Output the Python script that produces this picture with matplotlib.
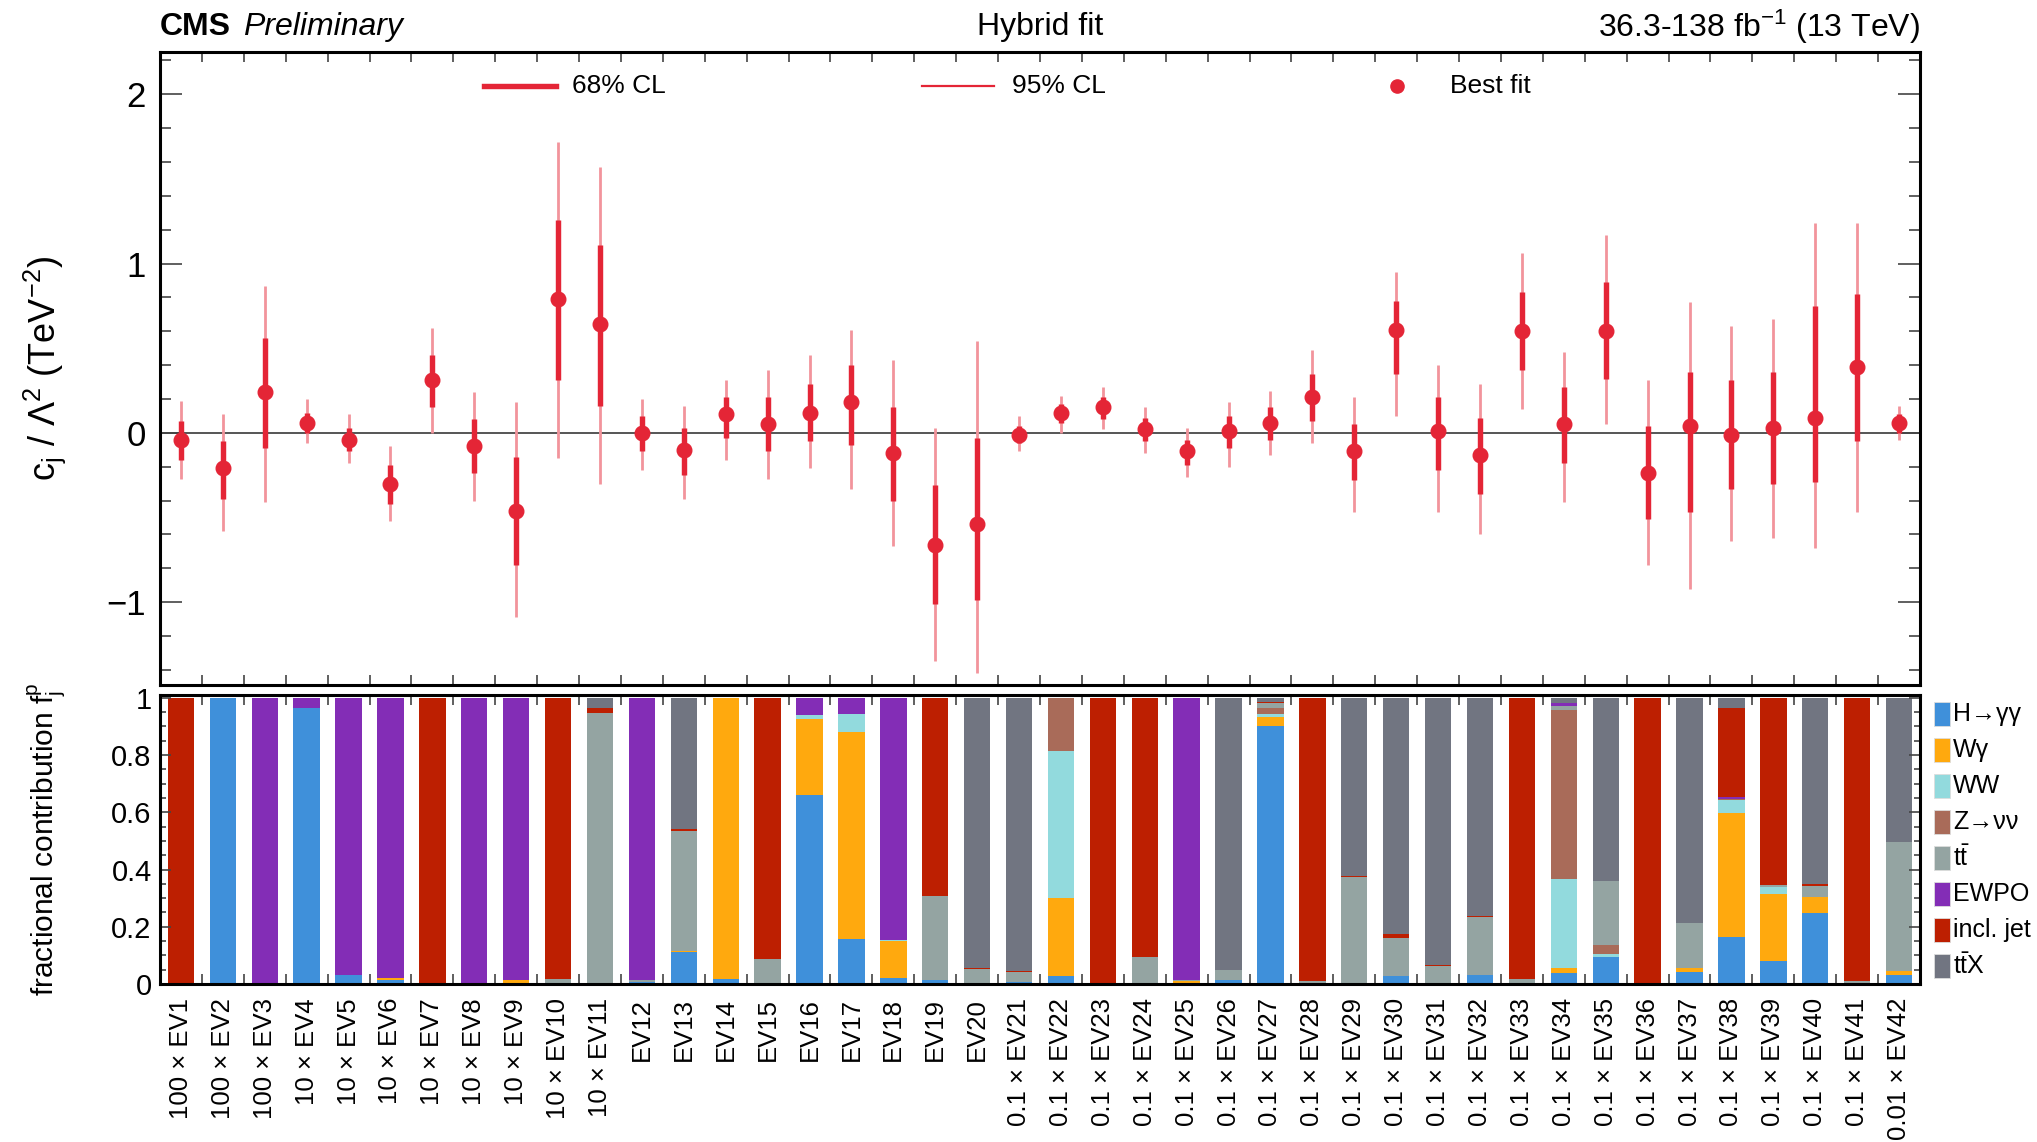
"""Hybrid fit: EV coefficients with fractional contributions per channel."""
import matplotlib
matplotlib.use("Agg")
import matplotlib.pyplot as plt
from matplotlib.ticker import MultipleLocator, FixedLocator
from matplotlib.patches import Rectangle

plt.rcParams["font.family"] = ["Liberation Sans", "DejaVu Sans"]
plt.rcParams["mathtext.fontset"] = "custom"
plt.rcParams["mathtext.rm"] = "Liberation Sans"
plt.rcParams["mathtext.it"] = "Liberation Sans:italic"
plt.rcParams["mathtext.bf"] = "Liberation Sans:bold"
plt.rcParams["mathtext.default"] = "regular"

# ---- data ----
ev_names = ["EV1", "EV2", "EV3", "EV4", "EV5", "EV6", "EV7", "EV8", "EV9", "EV10",
            "EV11", "EV12", "EV13", "EV14", "EV15", "EV16", "EV17", "EV18", "EV19", "EV20",
            "EV21", "EV22", "EV23", "EV24", "EV25", "EV26", "EV27", "EV28", "EV29", "EV30",
            "EV31", "EV32", "EV33", "EV34", "EV35", "EV36", "EV37", "EV38", "EV39", "EV40",
            "EV41", "EV42"]
ev_scale = ["100", "100", "100", "10", "10", "10", "10", "10", "10", "10",
            "10", "", "", "", "", "", "", "", "", "",
            "0.1", "0.1", "0.1", "0.1", "0.1", "0.1", "0.1", "0.1", "0.1", "0.1",
            "0.1", "0.1", "0.1", "0.1", "0.1", "0.1", "0.1", "0.1", "0.1", "0.1",
            "0.1", "0.01"]

best = [-0.04, -0.21, 0.24, 0.06, -0.04, -0.30, 0.31, -0.08, -0.46, 0.79,
        0.64, 0.00, -0.10, 0.11, 0.05, 0.12, 0.18, -0.12, -0.66, -0.54,
        -0.01, 0.12, 0.15, 0.02, -0.11, 0.01, 0.06, 0.21, -0.11, 0.61,
        0.01, -0.13, 0.60, 0.05, 0.60, -0.24, 0.04, -0.01, 0.03, 0.09,
        0.39, 0.06]
lo68 = [-0.16, -0.39, -0.09, 0.00, -0.11, -0.42, 0.15, -0.24, -0.78, 0.31,
        0.16, -0.11, -0.25, -0.03, -0.11, -0.05, -0.07, -0.40, -1.01, -0.99,
        -0.06, 0.06, 0.08, -0.05, -0.19, -0.09, -0.04, 0.07, -0.28, 0.35,
        -0.22, -0.36, 0.37, -0.18, 0.32, -0.51, -0.47, -0.33, -0.30, -0.29,
        -0.05, 0.00]
hi68 = [0.07, -0.05, 0.56, 0.12, 0.03, -0.19, 0.46, 0.08, -0.14, 1.26,
        1.11, 0.10, 0.03, 0.21, 0.21, 0.29, 0.40, 0.15, -0.31, -0.03,
        0.04, 0.17, 0.21, 0.09, -0.04, 0.10, 0.15, 0.35, 0.05, 0.78,
        0.21, 0.09, 0.83, 0.27, 0.89, 0.04, 0.36, 0.31, 0.36, 0.75,
        0.82, 0.11]
lo95 = [-0.27, -0.58, -0.41, -0.06, -0.18, -0.52, 0.00, -0.40, -1.09, -0.15,
        -0.30, -0.22, -0.39, -0.16, -0.27, -0.21, -0.33, -0.67, -1.35, -1.42,
        -0.11, 0.00, 0.02, -0.12, -0.26, -0.20, -0.13, -0.06, -0.47, 0.10,
        -0.47, -0.60, 0.14, -0.41, 0.05, -0.78, -0.92, -0.64, -0.62, -0.68,
        -0.47, -0.04]
hi95 = [0.19, 0.11, 0.87, 0.20, 0.11, -0.08, 0.62, 0.24, 0.18, 1.72,
        1.57, 0.20, 0.16, 0.31, 0.37, 0.46, 0.61, 0.43, 0.03, 0.54,
        0.10, 0.22, 0.27, 0.15, 0.03, 0.18, 0.25, 0.49, 0.21, 0.95,
        0.40, 0.29, 1.06, 0.48, 1.17, 0.31, 0.77, 0.63, 0.67, 1.24,
        1.24, 0.16]

# fractional contributions, stacked bottom -> top
f_hgg = [0, 1, 0, .965, .03, .014, 0, .003, 0, 0,
         0, .008, .112, .016, .003, .662, .156, .021, .013, .005,
         .008, .028, 0, .003, .003, .013, .901, 0, .002, .027,
         0, .031, 0, .038, .093, 0, .043, .166, .079, .247,
         0, .031]
f_wg = [0, 0, 0, 0, 0, .007, 0, 0, .015, 0,
        0, 0, .005, .984, 0, .265, .724, .128, 0, 0,
        0, .273, 0, 0, .008, 0, .033, 0, 0, 0,
        0, 0, 0, .018, 0, 0, .014, .433, .236, .058,
        0, .016]
f_ww = [0, 0, 0, 0, 0, 0, 0, 0, 0, 0,
        0, 0, 0, 0, 0, .014, .062, .006, 0, 0,
        0, .513, 0, 0, 0, 0, .010, 0, 0, 0,
        0, 0, 0, .311, .013, 0, 0, .044, .023, 0,
        0, 0]
f_zvv = [0, 0, 0, 0, 0, 0, 0, 0, 0, 0,
         0, 0, 0, 0, 0, 0, 0, 0, 0, 0,
         0, .186, 0, 0, 0, 0, .021, 0, 0, 0,
         0, 0, 0, .591, .032, 0, 0, .005, 0, 0,
         0, 0]
f_tt = [0, 0, 0, 0, 0, 0, 0, 0, 0, .016,
        .946, .006, .417, 0, .084, 0, 0, 0, .294, .049,
        .035, 0, 0, .093, .002, .036, .016, .012, .371, .134,
        .064, .202, .016, .015, .223, 0, .155, 0, .008, .039,
        .009, .448]
f_ewpo = [0, 0, 1, .035, .97, .979, 0, .997, .985, 0,
          0, .986, 0, 0, 0, .059, .058, .845, 0, 0,
          0, 0, 0, 0, .987, 0, 0, 0, 0, 0,
          0, 0, 0, .008, 0, 0, 0, .005, 0, 0,
          0, 0]
f_jet = [1, 0, 0, 0, 0, 0, 1, 0, 0, .984,
         .018, 0, .006, 0, .913, 0, 0, 0, .693, .002,
         .004, 0, 1, .904, 0, 0, .005, .988, .006, .014,
         .002, .005, .984, 0, 0, 1, 0, .312, .654, .006,
         .991, 0]
f_ttx = [0, 0, 0, 0, 0, 0, 0, 0, 0, 0,
         .036, 0, .460, 0, 0, 0, 0, 0, 0, .944,
         .953, 0, 0, 0, 0, .951, .014, 0, .621, .825,
         .934, .762, 0, .019, .639, 0, .788, .035, 0, .650,
         0, .505]

channels = ["H\u2192\u03b3\u03b3", "W\u03b3", "WW", "Z\u2192\u03bd\u03bd",
            r"$t\bar{t}$", "EWPO", "incl. jet", r"$t\bar{t}X$"]
fractions = [f_hgg, f_wg, f_ww, f_zvv, f_tt, f_ewpo, f_jet, f_ttx]
colors = ["#3f90da", "#ffa90e", "#92dadd", "#a96b59",
          "#94a4a2", "#832db6", "#bd1f01", "#717581"]

RED = "#e42536"
PINK = "#f2949c"

labels = [f"{s} \u00d7 {n}" if s else n for s, n in zip(ev_scale, ev_names)]
x = list(range(len(ev_names)))

# ---- figure ----
W, H = 2037, 1142
fig = plt.figure(figsize=(W / 100, H / 100), dpi=100)
L, R = 160, 1920
ax = fig.add_axes([L / W, 1 - 685 / H, (R - L) / W, (685 - 52) / H])
axb = fig.add_axes([L / W, 1 - 984 / H, (R - L) / W, (984 - 695) / H])

# top panel
ax.axhline(0, color="#555555", lw=1.4, zorder=1)
ax.vlines(x, lo95, hi95, color=PINK, lw=2.0, zorder=2)
ax.vlines(x, lo68, hi68, color=RED, lw=3.9, zorder=3)
ax.plot(x, best, "o", color=RED, ms=10.5, zorder=4)
ax.set_xlim(-0.5, len(x) - 0.5)
ax.set_ylim(-1.49, 2.25)
ax.yaxis.set_major_locator(FixedLocator([-1, 0, 1, 2]))
ax.yaxis.set_minor_locator(MultipleLocator(0.2))
ax.xaxis.set_major_locator(FixedLocator([]))
ax.xaxis.set_minor_locator(FixedLocator([i + 0.5 for i in x[:-1]]))
ax.tick_params(axis="y", which="major", direction="in", length=16, width=1.2,
               left=True, right=True, labelsize=25, pad=10, color="#444444")
ax.tick_params(axis="y", which="minor", direction="in", length=8, width=1.2,
               left=True, right=True, color="#444444")
ax.tick_params(axis="x", which="minor", direction="in", length=7, width=1.2,
               top=True, bottom=True, color="#444444")
ax.tick_params(axis="x", labelbottom=False)
ax.set_ylabel(r"c$_{j}$ / $\Lambda^{2}$ (TeV$^{-2}$)", fontsize=26)
ax.yaxis.set_label_coords(-0.052, 0.5)

# legend of top panel
ly = 0.946
ax.plot([0.184, 0.225], [ly, ly], color=RED, lw=3.9, transform=ax.transAxes, clip_on=False)
ax.text(0.234, ly, "68% CL", fontsize=19, va="center", transform=ax.transAxes)
ax.plot([0.433, 0.474], [ly, ly], color=RED, lw=1.6, transform=ax.transAxes, clip_on=False)
ax.text(0.484, ly, "95% CL", fontsize=19, va="center", transform=ax.transAxes)
ax.plot([0.703], [ly], "o", color=RED, ms=9.5, transform=ax.transAxes, clip_on=False)
ax.text(0.733, ly, "Best fit", fontsize=19, va="center", transform=ax.transAxes)

# bottom panel: stacked fractions
bottom = [0.0] * len(x)
for frac, col in zip(fractions, colors):
    axb.bar(x, frac, bottom=bottom, width=0.63, color=col, linewidth=0)
    bottom = [b + f for b, f in zip(bottom, frac)]
axb.set_xlim(-0.5, len(x) - 0.5)
axb.set_ylim(0, 1.01)
axb.yaxis.set_major_locator(FixedLocator([0, 0.2, 0.4, 0.6, 0.8, 1.0]))
axb.yaxis.set_minor_locator(MultipleLocator(0.05))
axb.set_yticklabels(["0", "0.2", "0.4", "0.6", "0.8", "1"])
axb.set_xticks(x)
axb.set_xticklabels(labels, rotation=90, fontsize=18.5, va="top", ha="center")
axb.xaxis.set_minor_locator(FixedLocator([i + 0.5 for i in x[:-1]]))
axb.tick_params(axis="x", which="major", length=0, pad=10)
axb.tick_params(axis="x", which="minor", direction="in", length=7, width=1.2,
                top=True, bottom=True, color="#444444")
axb.tick_params(axis="y", which="major", direction="in", length=8, width=1.2,
                left=True, right=True, labelsize=21, pad=6, color="#444444")
axb.tick_params(axis="y", which="minor", direction="in", length=4.5, width=1.2,
                left=True, right=True, color="#444444")
axb.set_ylabel(r"fractional contribution f$_{j}^{p}$", fontsize=21.5)
axb.yaxis.set_label_coords(-0.052, 0.5)

# channel legend to the right of the bars
for k, (name, col) in enumerate(zip(channels, colors)):
    yc = 0.934 - k * 0.1246
    axb.add_patch(Rectangle((1.008, yc - 0.041), 0.0091, 0.083, transform=axb.transAxes,
                            facecolor=col, edgecolor="#dddddd", lw=0.6, clip_on=False))
    axb.text(1.0188, yc, name, fontsize=18, va="center", ha="left", transform=axb.transAxes)

for a in (ax, axb):
    for sp in a.spines.values():
        sp.set_linewidth(2.2)
        sp.set_zorder(10)

# header texts
ty = 1 - 27 / H
fig.text(L / W, ty, "CMS", fontsize=23, fontweight="bold", va="center", ha="left")
fig.text(243 / W, ty, "Preliminary", fontsize=23, fontstyle="italic", va="center", ha="left")
fig.text((L + R) / 2 / W, ty, "Hybrid fit", fontsize=23, va="center", ha="center")
fig.text(R / W, ty, r"36.3-138 fb$^{-1}$ (13 TeV)", fontsize=23, va="center", ha="right")

fig.savefig("out.png", dpi=100, facecolor="white")
